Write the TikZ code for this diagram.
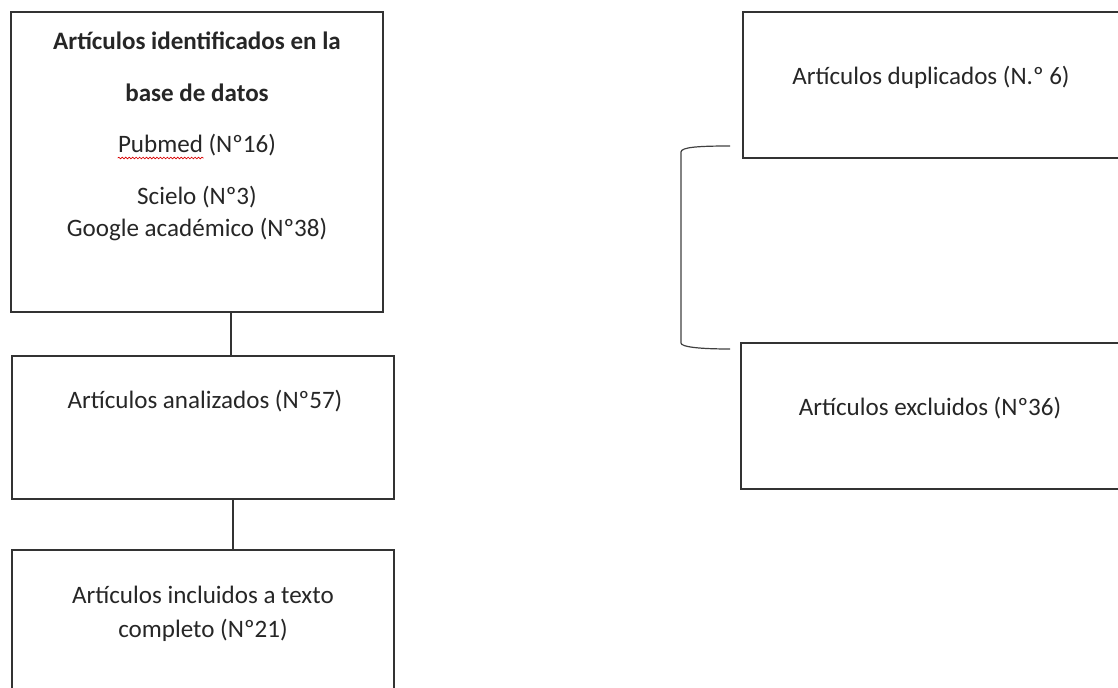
\documentclass[tikz,border=0pt]{standalone}
\usepackage{fontspec}
\setmainfont{Carlito}
\usetikzlibrary{decorations.pathmorphing}
\tikzset{
  caja/.style={draw=black!80, line width=0.9pt, inner sep=0pt},
  texto/.style={inner sep=0pt, anchor=base, font=\fontsize{18.8}{22}\selectfont, text=black!85},
  enlace/.style={draw=black!80, line width=0.9pt},
  corchete/.style={draw=black!75, line width=0.9pt},
  ondas/.style={draw=red!85!black, line width=0.5pt, decorate, decoration={snake, amplitude=0.6pt, segment length=2.6pt}}
}

\begin{document}
\begin{tikzpicture}[x=0.75pt, y=-0.75pt]
			\useasboundingbox (0,0) rectangle (1118,688);
			% cajas
			\node[caja, minimum width=372*0.75pt, minimum height=300*0.75pt] (ident) at (197,162) {};
			\node[caja, minimum width=382*0.75pt, minimum height=143*0.75pt] (anal) at (203,427.5) {};
			\node[caja, minimum width=382*0.75pt, minimum height=170*0.75pt] (incl) at (203,635) {};
			\node[caja, minimum width=387*0.75pt, minimum height=146*0.75pt] (dupl) at (936.5,85) {};
			\node[caja, minimum width=389*0.75pt, minimum height=146*0.75pt] (excl) at (935.5,416) {};
			% textos
			\node[texto] (ident1) at (197,50) {\textbf{Artículos identificados en la}};
			\node[texto] (ident2) at (197,102) {\textbf{base de datos}};
			\node[texto] (ident3) at (197,153) {Pubmed (Nº16)};
			\node[texto] (ident4) at (197,205) {Scielo (Nº3)};
			\node[texto] (ident5) at (197,237) {Google académico (Nº38)};
			\node[texto] (anal1) at (205,408) {Artículos analizados (Nº57)};
			\node[texto] (incl1) at (203,603) {Artículos incluidos a texto};
			\node[texto] (incl2) at (203,637) {completo (Nº21)};
			\node[texto] (dupl1) at (931,85) {Artículos duplicados (N.º 6)};
			\node[texto] (excl1) at (930,415) {Artículos excluidos (Nº36)};
			\draw[ondas] ([yshift=-5*0.75pt]ident3.base west) -- ++(86,0);
			% enlaces
			\coordinate (k1) at (231,0);
			\coordinate (k2) at (233,0);
			\draw[enlace] (ident.south -| k1) -- (anal.north -| k1);
			\draw[enlace] (anal.south -| k2) -- (incl.north -| k2);
			\draw[corchete] (730,146) .. controls (700,146) and (681,147) .. (681,152) -- (681,343) .. controls (681,347) and (700,349) .. (730,349);
		\end{tikzpicture}
\end{document}
